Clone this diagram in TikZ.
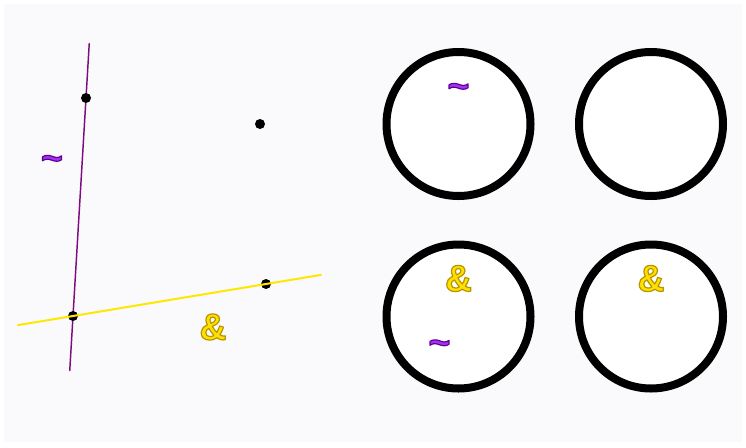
\documentclass[tikz,border=0pt]{standalone}
\usepackage{fontspec}
\setmainfont{Liberation Sans}
\usetikzlibrary{calc}
\definecolor{panelbg}{RGB}{250,250,252}
\definecolor{linepurple}{RGB}{128,10,128}
\definecolor{lineyellow}{RGB}{255,232,0}
\definecolor{tildefill}{RGB}{165,50,240}
\definecolor{ampfill}{RGB}{255,225,0}
\newcommand{\outlined}[3]{{\color{#1}\special{pdf:literal direct #2 RG 2 Tr 0.9 w}#3\special{pdf:literal direct 0 Tr}}}
\newcommand{\tildesym}{\outlined{tildefill}{0.37 0 0.59}{\char"007E}}
\newcommand{\ampsym}{\outlined{ampfill}{0.72 0.58 0}{\&}}

\begin{document}
\begin{tikzpicture}[x=0.75pt, y=-0.75pt, line join=round, line cap=round,
    ring/.style={circle, draw=black, fill=white, line width=6pt, minimum size=108pt, inner sep=0pt},
    symbol/.style={font=\fontsize{28}{30}\selectfont\bfseries, inner sep=0pt}]
    \fill[white] (0,0) rectangle (746,447);
    \fill[panelbg] (4,4) rectangle (742,442);

    \coordinate (P1) at (86,98);
    \coordinate (P2) at (73,316);
    \coordinate (P3) at (266,284);
    \coordinate (P4) at (260,124);
    \coordinate (purpletop) at ($(P1)!-0.25!(P2)$);
    \coordinate (purplebot) at ($(P1)!1.25!(P2)$);
    \coordinate (yellowleft) at ($(P2)!-0.285!(P3)$);
    \coordinate (yellowright) at ($(P2)!1.285!(P3)$);

    \draw[linepurple, line width=1.1pt] (purpletop) -- (purplebot);
    \foreach \p in {P1,P2,P3,P4}
        \fill (\p) circle (5);
    \draw[lineyellow, line width=1.5pt] (yellowleft) -- (yellowright);

    \node[symbol] (tildeleft) at (52,163) {\tildesym};
    \node[symbol] (ampleft) at (213,327) {\ampsym};

    \foreach \x/\y/\name in {458.5/124/c1, 651/124/c2, 458.5/316.5/c3, 651/316.5/c4}
        \node[ring] (\name) at (\x,\y) {};

    \node[symbol] (tildeone) at ($(c1)+(0,-33)$) {\tildesym};
    \node[symbol] (ampthree) at ($(c3)+(0,-38)$) {\ampsym};
    \node[symbol] (tildethree) at ($(c3)+(-19,31)$) {\tildesym};
    \node[symbol] (ampfour) at ($(c4)+(0,-38)$) {\ampsym};
\end{tikzpicture}
\end{document}
